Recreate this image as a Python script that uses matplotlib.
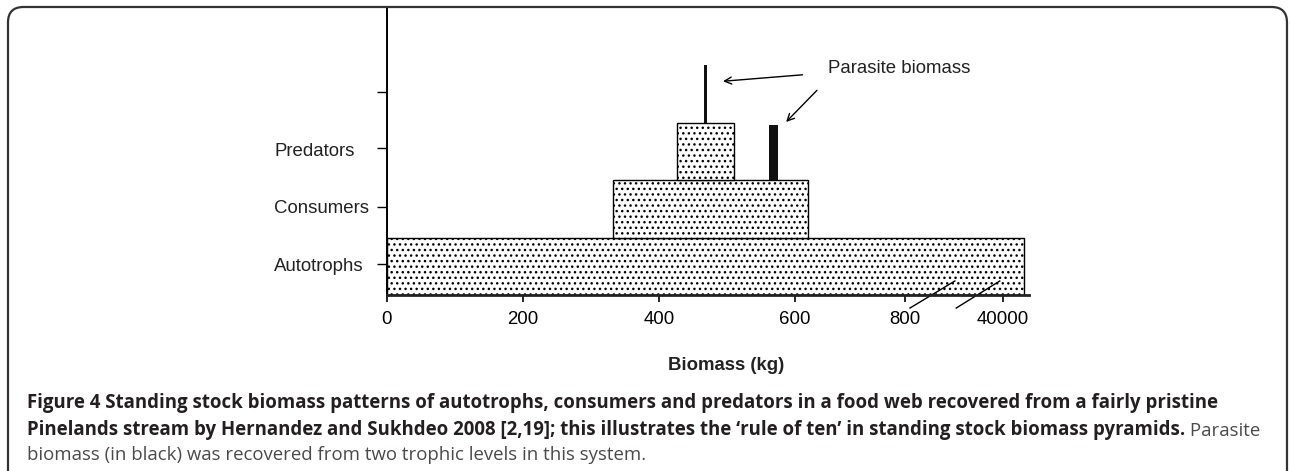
import matplotlib.pyplot as plt
from matplotlib.patches import FancyBboxPatch
import matplotlib.transforms as mtransforms

# trophic levels: (left, right) extent on the broken biomass axis, bottom level
levels = ["Autotrophs", "Consumers", "Predators"]
level_left = [0, 332, 426]
level_right = [937, 619, 510]
level_bottom = [0, 1, 2]

# parasite biomass bars
parasite_x = [468, 568]
parasite_width = [5, 13]
parasite_bottom = [3, 2]
parasite_top = [4.0, 2.97]

xtick_pos = [0, 200, 400, 600, 762, 906]
xtick_labels = ["0", "200", "400", "600", "800", "40000"]
ytick_pos = [0.54, 1.54, 2.56, 3.54]

caption_bold_1 = ("Figure 4 Standing stock biomass patterns of autotrophs, consumers and "
                  "predators in a food web recovered from a fairly pristine")
caption_bold_2 = ("Pinelands stream by Hernandez and Sukhdeo 2008 [2,19]; this illustrates "
                  "the \u2018rule of ten\u2019 in standing stock biomass pyramids.")
caption_reg_2 = " Parasite"
caption_reg_3 = "biomass (in black) was recovered from two trophic levels in this system."

plt.rcParams["font.family"] = ["Liberation Sans", "DejaVu Sans"]
plt.rcParams["hatch.linewidth"] = 1.0

W, H = 1290, 471
fig = plt.figure(figsize=(W / 100, H / 100), dpi=100)

# rounded frame, open at the bottom
frame = FancyBboxPatch((8 / W, -30 / H), 1279 / W, (H - 7 + 30) / H,
                       boxstyle="round,pad=0,rounding_size=0.012",
                       transform=fig.transFigure, fill=False,
                       edgecolor="#333333", linewidth=1.6, mutation_aspect=W / H)
fig.patches.append(frame)

ax = fig.add_axes([387 / W, (H - 295) / H, 642 / W, 287 / H])
ax.set_xlim(0, 944)
ax.set_ylim(0, 5.0)

for left, right, bottom in zip(level_left, level_right, level_bottom):
    ax.bar(left, 1, width=right - left, bottom=bottom, align="edge",
           facecolor="white", edgecolor="black", hatch="...", linewidth=1.0)

for x, w, b, t in zip(parasite_x, parasite_width, parasite_bottom, parasite_top):
    ax.bar(x, t - b, width=w, bottom=b, color="#111111", linewidth=0)

for side in ["top", "right"]:
    ax.spines[side].set_visible(False)
ax.spines["left"].set_linewidth(1.4)
ax.spines["bottom"].set_linewidth(2.0)
ax.spines["bottom"].set_color("#222222")

ax.set_xticks(xtick_pos)
ax.set_xticklabels(xtick_labels, fontsize=13.4)
ax.set_yticks(ytick_pos)
ax.set_yticklabels([])
ax.tick_params(axis="x", direction="out", length=5, width=1.2, pad=6.5, colors="black")
ax.tick_params(axis="y", direction="out", length=7, width=1.0)

trans = mtransforms.blended_transform_factory(ax.transAxes, ax.transData)
for name, b in zip(levels, level_bottom):
    ax.text(-0.176, b + 0.5, name, transform=trans, ha="left", va="center",
            fontsize=13.4, color="#222222")

ax.text(0.528, -0.244, "Biomass (kg)", transform=ax.transAxes, ha="center",
        va="center", fontsize=13.4, fontweight="bold", color="#222222")

ax.text(649, 3.94, "Parasite biomass", ha="left", va="center", fontsize=13.4,
        color="#222222")
arrow = dict(arrowstyle="->,head_length=0.5,head_width=0.25", color="black", lw=1.0)
ax.annotate("", xy=(490, 3.72), xytext=(615, 3.84), arrowprops=arrow)
ax.annotate("", xy=(584, 2.98), xytext=(635, 3.60), arrowprops=arrow)

# axis break marks
ax.plot([769, 835], [-0.227, 0.244], color="black", lw=1.0, clip_on=False)
ax.plot([837, 901], [-0.227, 0.244], color="black", lw=1.0, clip_on=False)

cap_font = ["Open Sans", "DejaVu Sans"]
cap_size = 13.4
fig.text(27 / W, (H - 408) / H, caption_bold_1, family=cap_font, fontweight="bold",
         fontsize=cap_size, color="#231f20", va="baseline", ha="left")
t2 = fig.text(27 / W, (H - 435) / H, caption_bold_2, family=cap_font, fontweight="bold",
              fontsize=cap_size, color="#231f20", va="baseline", ha="left")
ax.annotate(caption_reg_2, xy=(1, 0), xycoords=t2, ha="left", va="bottom",
            family=cap_font, fontsize=cap_size, color="#4a4a4a", annotation_clip=False)
fig.text(27 / W, (H - 460) / H, caption_reg_3, family=cap_font, fontsize=cap_size,
         color="#4a4a4a", va="baseline", ha="left")

fig.savefig("out.png", dpi=100)
